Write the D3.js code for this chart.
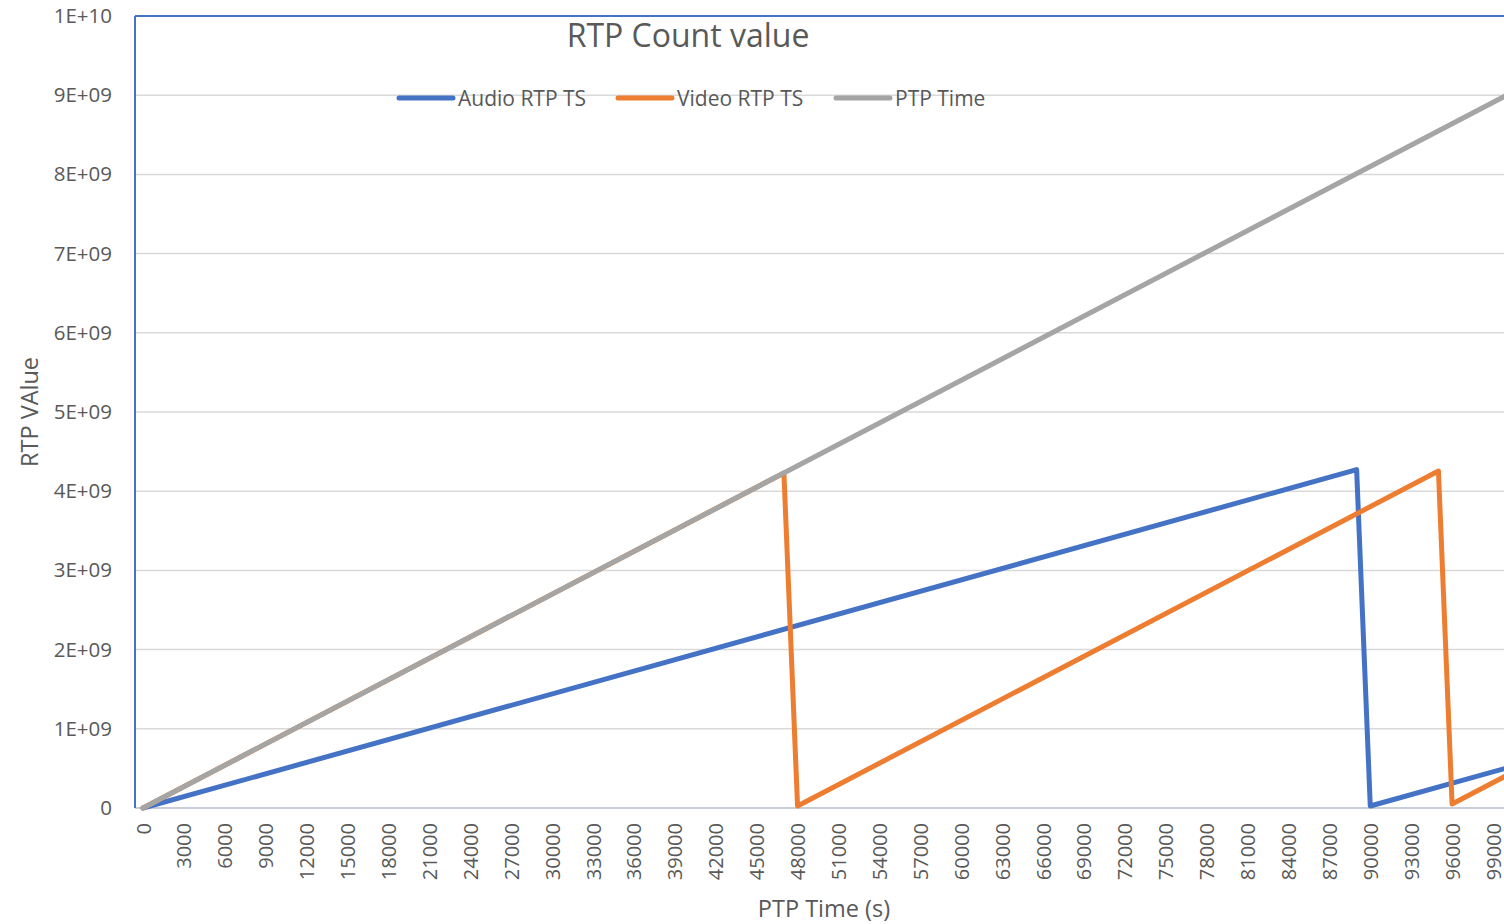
<!DOCTYPE html>
<html><head><meta charset="utf-8">
<script src="https://cdn.jsdelivr.net/npm/d3@7"></script>
<style>body{margin:0;background:#fff;} svg{display:block;}</style>
</head><body>
<svg id="c" width="1504" height="924"></svg>
<script>
const xTicks = d3.range(0, 99001, 3000); // tick labels every 3000 s
const yTicks = [0,1e9,2e9,3e9,4e9,5e9,6e9,7e9,8e9,9e9,1e10];
const yTickLabels = ["0","1E+09","2E+09","3E+09","4E+09","5E+09","6E+09","7E+09","8E+09","9E+09","1E+10"];
const seriesNames = ["Audio RTP TS","Video RTP TS","PTP Time"];
const seriesColors = ["#4472C4","#ED7D31","#A5A5A5"];
const audioX = [0, 89000, 90000, 100000];
const audioY = [0, 4.272e9, 0.025e9, 0.505e9];
const videoX = [0, 47000, 48000, 95000, 96000, 100000];
const videoY = [0, 4.23e9, 0.025e9, 4.255e9, 0.05e9, 0.41e9];
const ptpX = [0, 100000];
const ptpY = [0, 9.0e9];

const svg = d3.select("#c");
const font = "'Open Sans', 'Liberation Sans', sans-serif";
const pL = 135, pR = 1504, pT = 16, pB = 808;
const x = d3.scaleLinear().domain([0, 99000]).range([143, 1493]);
const y = d3.scaleLinear().domain([0, 1e10]).range([pB, pT]);

svg.append("defs").append("clipPath").attr("id","clip")
  .append("rect").attr("x",pL).attr("y",pT-5).attr("width",pR-pL).attr("height",pB-pT+10);

// gridlines
svg.append("g").selectAll("line").data(yTicks.slice(1,10)).join("line")
  .attr("x1",pL).attr("x2",pR).attr("y1",d=>y(d)).attr("y2",d=>y(d))
  .attr("stroke","#d9d9d9").attr("stroke-width",1.5);

// y axis
const yAxis = d3.axisLeft(y).tickValues(yTicks).tickFormat((d,i)=>yTickLabels[i]).tickSize(0).tickPadding(23);
const gy = svg.append("g").attr("transform",`translate(${pL},0)`).call(yAxis);
gy.select(".domain").remove();
gy.selectAll("text").attr("font-family",font).attr("font-size",20.5).attr("fill","#595959");

// x axis
const xAxis = d3.axisBottom(x).tickValues(xTicks).tickFormat(d=>String(d)).tickSize(0);
const gx = svg.append("g").attr("transform",`translate(0,${pB})`).call(xAxis);
gx.select(".domain").remove();
gx.selectAll("text").attr("font-family",font).attr("font-size",20).attr("fill","#595959")
  .attr("transform","rotate(-90)").attr("text-anchor","end").attr("x",-15).attr("y",0).attr("dy","0.35em");

// bottom axis line
svg.append("line").attr("x1",pL).attr("x2",pR).attr("y1",pB).attr("y2",pB)
  .attr("stroke","#c8ccd6").attr("stroke-width",2);
// plot border top & left
svg.append("line").attr("x1",pL).attr("x2",pR).attr("y1",pT).attr("y2",pT).attr("stroke","#4472C4").attr("stroke-width",2);
svg.append("line").attr("x1",pL).attr("x2",pL).attr("y1",pT).attr("y2",pB).attr("stroke","#4472C4").attr("stroke-width",2);

// series
const line = d3.line().x(d=>x(d[0])).y(d=>y(d[1]));
const series = [
  d3.zip(audioX, audioY),
  d3.zip(videoX, videoY),
  d3.zip(ptpX, ptpY)
];
const gs = svg.append("g").attr("clip-path","url(#clip)");
[0,1,2].forEach(i=>{
  gs.append("path").datum(series[i]).attr("d",line).attr("fill","none")
    .attr("stroke",seriesColors[i]).attr("stroke-width",5).attr("stroke-linejoin","round").attr("stroke-linecap","round");
});

// title
svg.append("text").attr("x",688).attr("y",47).attr("text-anchor","middle")
  .attr("font-family",font).attr("font-size",32).attr("fill","#595959").text("RTP Count value");

// legend
const legX = [400, 619, 837];
seriesNames.forEach((n,i)=>{
  svg.append("line").attr("x1",legX[i]-1).attr("x2",legX[i]+53).attr("y1",98).attr("y2",98)
    .attr("stroke",seriesColors[i]).attr("stroke-width",5).attr("stroke-linecap","round");
  svg.append("text").attr("x",legX[i]+58).attr("y",105.5).attr("font-family",font).attr("font-size",21)
    .attr("fill","#595959").text(n);
});

// axis titles
svg.append("text").attr("transform","translate(38,412) rotate(-90)").attr("text-anchor","middle")
  .attr("font-family",font).attr("font-size",23.5).attr("fill","#595959").text("RTP VAlue");
svg.append("text").attr("x",824).attr("y",917).attr("text-anchor","middle")
  .attr("font-family",font).attr("font-size",23.5).attr("fill","#595959").text("PTP Time (s)");
</script>
</body></html>
